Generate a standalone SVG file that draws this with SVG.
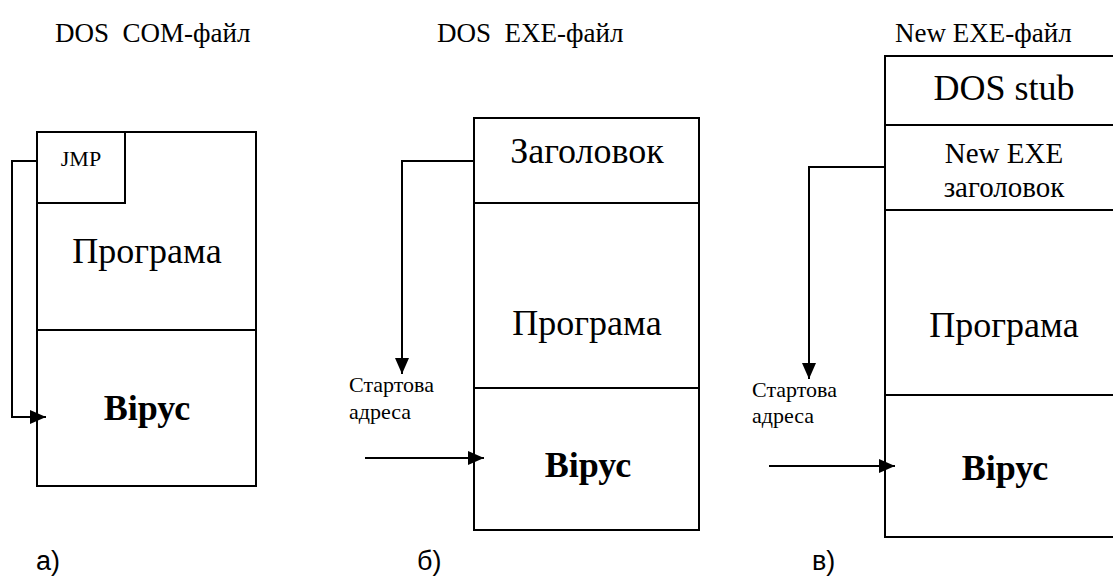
<svg xmlns="http://www.w3.org/2000/svg" width="1113" height="583" viewBox="0 0 1113 583">
<defs>
<style>
.box{fill:#fff;stroke:#000;stroke-width:2}
.ln{fill:none;stroke:#000;stroke-width:2}
</style>
<marker id="arr" markerUnits="userSpaceOnUse" markerWidth="16" markerHeight="14" refX="16" refY="7" orient="auto">
<path d="M0,0 L16,7 L0,14 Z" fill="#000"/>
</marker>
</defs>
<rect width="1113" height="583" fill="#fff"/>

<g id="titles" font-family="Liberation Serif, serif" font-size="27" fill="#000">
<text x="55" y="42" xml:space="preserve">DOS  COM-файл</text>
<text x="437" y="42" xml:space="preserve">DOS  EXE-файл</text>
<text x="895" y="42">New EXE-файл</text>
</g>

<g id="com-file" font-family="Liberation Serif, serif" fill="#000">
<rect class="box" x="37" y="132" width="219" height="354"/>
<line class="ln" x1="37" y1="330" x2="256" y2="330"/>
<rect class="box" x="37" y="132" width="88" height="71"/>
<text x="81" y="166" font-size="22" text-anchor="middle">JMP</text>
<text x="147" y="263" font-size="36" text-anchor="middle">Програма</text>
<text x="147" y="420" font-size="36" font-weight="bold" text-anchor="middle">Вірус</text>
</g>

<g id="exe-file" font-family="Liberation Serif, serif" fill="#000">
<rect class="box" x="474" y="118" width="225" height="412"/>
<line class="ln" x1="474" y1="203" x2="699" y2="203"/>
<line class="ln" x1="474" y1="388" x2="699" y2="388"/>
<text x="587" y="163" font-size="36" text-anchor="middle">Заголовок</text>
<text x="587" y="335" font-size="36" text-anchor="middle">Програма</text>
<text x="588" y="477" font-size="36" font-weight="bold" text-anchor="middle">Вірус</text>
<text x="349" y="392" font-size="22">Стартова</text>
<text x="349" y="419" font-size="22">адреса</text>
</g>

<g id="newexe-file" font-family="Liberation Serif, serif" fill="#000">
<rect class="box" x="885" y="56" width="240" height="481"/>
<line class="ln" x1="885" y1="125" x2="1113" y2="125"/>
<line class="ln" x1="885" y1="210" x2="1113" y2="210"/>
<line class="ln" x1="885" y1="395" x2="1113" y2="395"/>
<text x="1004" y="100" font-size="36" text-anchor="middle">DOS stub</text>
<text x="1004" y="163" font-size="29" text-anchor="middle">New EXE</text>
<text x="1004" y="197" font-size="29" text-anchor="middle">заголовок</text>
<text x="1004" y="337" font-size="36" text-anchor="middle">Програма</text>
<text x="1005" y="480" font-size="36" font-weight="bold" text-anchor="middle">Вірус</text>
<text x="752" y="397" font-size="22">Стартова</text>
<text x="752" y="423" font-size="22">адреса</text>
</g>

<g id="connectors">
<polyline class="ln" points="37,161 12,161 12,417 46,417" marker-end="url(#arr)"/>
<polyline class="ln" points="474,161 402,161 402,374" marker-end="url(#arr)"/>
<line class="ln" x1="365" y1="458" x2="484" y2="458" marker-end="url(#arr)"/>
<polyline class="ln" points="885,167 809,167 809,379" marker-end="url(#arr)"/>
<line class="ln" x1="769" y1="466" x2="895" y2="466" marker-end="url(#arr)"/>
</g>

<g id="labels" font-family="Liberation Sans, sans-serif" font-size="27" fill="#000">
<text x="36" y="570">а)</text>
<text x="417" y="570">б)</text>
<text x="812" y="570">в)</text>
</g>
</svg>
